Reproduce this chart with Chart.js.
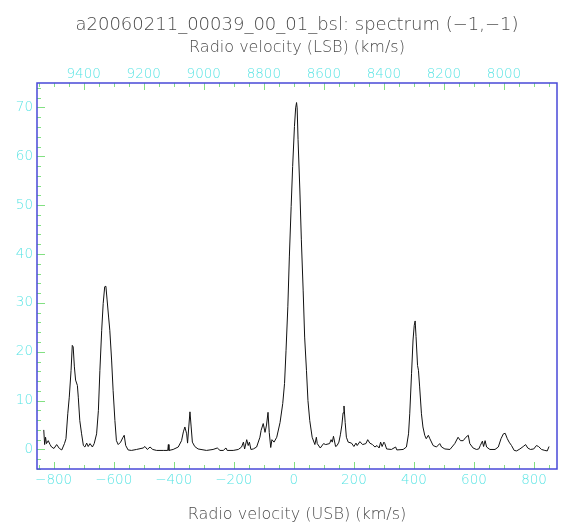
<!DOCTYPE html>
<html>
<head>
<meta charset="utf-8">
<script src="https://cdn.jsdelivr.net/npm/chart.js@4/dist/chart.umd.min.js"></script>
<style>
  html, body { margin: 0; padding: 0; background: #fff; }
  #wrap { width: 561px; height: 524px; }
</style>
</head>
<body>
<div id="wrap"><canvas id="chart" width="561" height="524"></canvas></div>
<script>
// spectrum: USB radio velocity (km/s) vs intensity
const usbVelocity = [
  -833, -830, -827, -824, -818, -812, -807, -799, -790, -781, -773, -764, -759, -753, -748, -742,
  -738, -735, -731, -727, -721, -718, -713, -707, -701, -696, -690, -685, -679, -671, -665, -657,
  -651, -646, -640, -635, -630, -626, -622, -617, -613, -607, -602, -596, -591, -585, -577, -569,
  -565, -560, -552, -541, -524, -502, -496, -488, -479, -470, -457, -435, -420, -418, -416, -402,
  -385, -374, -368, -363, -357, -354, -350, -346, -342, -338, -330, -319, -291, -269, -255, -246,
  -235, -226, -222, -202, -185, -174, -168, -164, -157, -152, -148, -143, -135, -124, -113, -109,
  -102, -96, -91, -86, -82, -77, -73, -66, -57, -46, -37, -31, -26, -20, -15, -9,
  -4, 2, 6, 9, 11, 14, 20, 25, 31, 36, 42, 47, 53, 61, 70, 75,
  78, 88, 99, 106, 119, 124, 128, 132, 139, 144, 150, 155, 160, 164, 167, 171,
  175, 181, 192, 200, 207, 211, 220, 229, 240, 246, 253, 262, 270, 277, 284, 289,
  294, 300, 303, 309, 325, 339, 343, 364, 375, 382, 386, 392, 397, 401, 404, 407,
  412, 415, 419, 425, 430, 436, 441, 448, 453, 464, 475, 486, 492, 503, 520, 536,
  547, 555, 564, 573, 581, 586, 597, 608, 616, 621, 628, 632, 637, 642, 653, 670,
  681, 690, 698, 704, 711, 717, 725, 734, 742, 753, 764, 772, 779, 788, 799, 808,
  815, 825, 836, 844, 850
];
const intensity = [
  4.0, 1.0, 2.5, 1.2, 1.8, 1.0, 0.5, 0.2, 1.0, 0.2, -0.1, 1.2, 2.2, 7.3, 10.7, 16.2,
  21.3, 21.0, 16.9, 14.2, 13.1, 10.7, 5.9, 3.2, 0.8, 0.5, 1.3, 0.6, 1.2, 0.5, 1.2, 3.2,
  8.0, 16.2, 24.4, 29.9, 33.3, 33.4, 30.6, 27.1, 24.4, 18.3, 12.1, 5.9, 1.8, 1.0, 1.5, 2.5,
  2.9, 0.8, -0.1, -0.2, 0.0, 0.3, 0.6, 0.0, 0.5, 0.0, -0.2, -0.2, -0.2, 1.0, -0.2, 0.0,
  0.5, 1.8, 3.6, 4.6, 3.2, 1.3, 4.6, 7.7, 4.6, 1.5, 0.6, 0.1, -0.2, 0.0, 0.3, -0.2,
  -0.2, 0.3, -0.2, -0.2, 0.0, 0.5, 1.5, 0.1, 2.0, 0.8, 1.5, 0.0, 0.1, 0.5, 2.5, 3.9,
  5.3, 3.5, 5.0, 7.6, 3.5, 0.4, 2.0, 1.5, 2.5, 5.5, 9.4, 13.5, 20.3, 29.2, 39.4, 49.7,
  57.9, 66.1, 69.9, 71.0, 69.9, 63.4, 53.1, 42.9, 32.6, 23.0, 16.2, 10.0, 5.9, 2.5, 1.0, 2.5,
  1.2, 0.3, 1.2, 1.0, 1.2, 2.0, 1.5, 2.7, 0.6, 0.8, 1.5, 3.0, 5.0, 7.5, 8.9, 5.5,
  2.5, 1.5, 1.3, 0.6, 1.3, 0.8, 1.6, 1.0, 1.2, 2.0, 1.3, 1.0, 0.5, 0.8, 0.3, 1.5,
  0.6, 1.5, 1.2, 0.1, 0.0, 0.5, -0.1, 0.0, 0.5, 3.2, 7.3, 15.5, 22.4, 25.4, 26.3, 23.1,
  17.2, 16.2, 12.8, 7.3, 4.6, 2.9, 2.2, 2.9, 2.2, 0.8, 0.5, 1.2, 0.5, 0.1, 0.0, 1.2,
  2.5, 1.8, 1.8, 2.5, 2.9, 1.2, 0.3, 0.0, 0.1, 0.8, 1.7, 0.6, 1.8, 0.5, 0.0, 0.0,
  0.5, 2.2, 3.2, 3.3, 2.2, 1.5, 0.8, -0.2, -0.3, 0.1, 0.6, 1.0, 0.3, 0.0, 0.1, 0.8,
  0.6, 0.0, -0.2, -0.3, 0.6
];

const usbTicks = [-800, -600, -400, -200, 0, 200, 400, 600, 800];
const lsbTicks = [9400, 9200, 9000, 8800, 8600, 8400, 8200, 8000];
const yTicks = [0, 10, 20, 30, 40, 50, 60, 70];

const USB_MIN = -855.5, USB_MAX = 876.5;
const LSB_SUM = 8700; // LSB = 8700 - USB

const FONT = '"DejaVu Sans", sans-serif';
const TEXT = '#4a4a4a';
const CYAN = '#5ae4e4';
const GREEN = '#82e082';
const BLUE = '#4848d8';

const fmt = v => (v < 0 ? '\u2212' + Math.abs(v) : String(v));
const setTicks = list => scale => { scale.ticks = list.map(v => ({ value: v })); };

// pgplot style ticks pointing into the box, plus the frame
const innerTicks = {
    id: 'innerTicks',
    afterDatasetsDraw(chart) {
        const { ctx, chartArea: a, scales } = chart;
        ctx.save();
        ctx.strokeStyle = GREEN;
        ctx.lineWidth = 1;
        ctx.beginPath();
        const x = scales.x, x2 = scales.x2, y = scales.y;
        for (let v = Math.ceil(x.min / 50) * 50; v <= x.max; v += 50) {
            const px = Math.round(x.getPixelForValue(v)) + 0.5;
            const len = v % 200 === 0 ? 7 : 4;
            ctx.moveTo(px, a.bottom);
            ctx.lineTo(px, a.bottom - len);
        }
        for (let v = Math.ceil(x2.min / 50) * 50; v <= x2.max; v += 50) {
            const px = Math.round(x2.getPixelForValue(v)) + 0.5;
            const len = v % 200 === 0 ? 7 : 4;
            ctx.moveTo(px, a.top);
            ctx.lineTo(px, a.top + len);
        }
        for (let v = Math.ceil(y.min / 2) * 2; v <= y.max; v += 2) {
            const py = Math.round(y.getPixelForValue(v)) + 0.5;
            const len = v % 10 === 0 ? 8 : 4;
            ctx.moveTo(a.left, py);
            ctx.lineTo(a.left + len, py);
        }
        ctx.stroke();
        ctx.strokeStyle = BLUE;
        ctx.lineWidth = 1.5;
        ctx.strokeRect(a.left, a.top, a.right - a.left, a.bottom - a.top);
        ctx.restore();
    }
};

new Chart(document.getElementById('chart'), {
    type: 'line',
    data: {
        datasets: [{
            data: usbVelocity.map((v, i) => ({ x: v, y: intensity[i] })),
            borderColor: '#111',
            borderWidth: 1,
            pointRadius: 0,
            tension: 0,
            fill: false
        }]
    },
    options: {
        responsive: false,
        animation: false,
        events: [],
        layout: { padding: { left: 0, right: 4, top: 0, bottom: 0 } },
        plugins: {
            legend: { display: false },
            tooltip: { enabled: false },
            title: {
                display: true,
                fullSize: false,
                text: 'a20060211_00039_00_01_bsl: spectrum (\u22121,\u22121)',
                color: TEXT,
                font: { family: FONT, size: 18, weight: 200, lineHeight: 1.2 },
                padding: { top: 15, bottom: 0 }
            }
        },
        scales: {
            x: {
                type: 'linear',
                position: 'bottom',
                min: USB_MIN,
                max: USB_MAX,
                afterBuildTicks: setTicks(usbTicks),
                afterFit: s => { s.height = 55; },
                grid: { display: false, drawTicks: false },
                border: { display: false },
                ticks: {
                    color: CYAN, padding: 3, maxRotation: 0, autoSkip: false,
                    font: { family: FONT, size: 13.5, weight: 200 },
                    callback: fmt
                },
                title: {
                    display: true,
                    text: 'Radio velocity (USB) (km/s)',
                    color: TEXT,
                    font: { family: FONT, size: 16, weight: 200, lineHeight: 1.2 },
                    padding: { top: 0, bottom: 0 }
                }
            },
            x2: {
                type: 'linear',
                position: 'top',
                reverse: true,
                min: LSB_SUM - USB_MAX,
                max: LSB_SUM - USB_MIN,
                afterBuildTicks: setTicks(lsbTicks),
                afterFit: s => { s.height = 46.4; },
                grid: { display: false, drawTicks: false },
                border: { display: false },
                ticks: {
                    color: CYAN, padding: 0, maxRotation: 0, autoSkip: false,
                    font: { family: FONT, size: 13.5, weight: 200 },
                    callback: fmt
                },
                title: {
                    display: true,
                    text: 'Radio velocity (LSB) (km/s)',
                    color: TEXT,
                    font: { family: FONT, size: 16, weight: 200, lineHeight: 1.2 },
                    padding: { top: 1.3, bottom: 0 }
                }
            },
            y: {
                type: 'linear',
                min: -4,
                max: 75,
                afterBuildTicks: setTicks(yTicks),
                afterFit: s => { s.width = 37; },
                grid: { display: false, drawTicks: false },
                border: { display: false },
                ticks: {
                    color: CYAN, padding: 4,
                    font: { family: FONT, size: 13.5, weight: 200 },
                    callback: fmt
                }
            }
        }
    },
    plugins: [innerTicks]
});
</script>
</body>
</html>
